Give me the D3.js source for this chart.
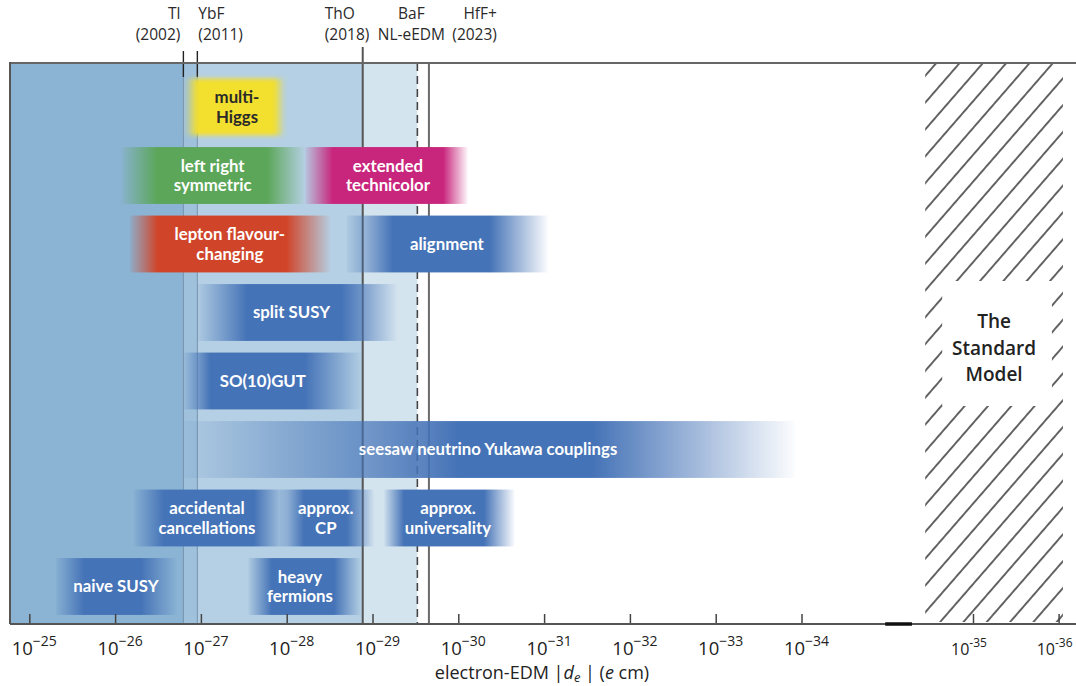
<!DOCTYPE html>
<html>
<head>
<meta charset="utf-8">
<script src="https://cdn.jsdelivr.net/npm/d3@7"></script>
<style>
  body { margin: 0; background: #fff; }
  svg { display: block; }
</style>
</head>
<body>
<svg id="chart" width="1076" height="686"></svg>
<script>
// ---- experimental upper limits on |d_e| (e cm) ----
const experiments   = ["Tl", "YbF", "ThO", "BaF", "HfF+"];
const experimentSub = ["(2002)", "(2011)", "(2018)", "NL-eEDM", "(2023)"];
const experimentLimit = [1.6e-27, 1.1e-27, 1.3e-29, 3.0e-30, 2.2e-30];

// ---- model predictions: fade-in start, fully covered range, fade-out end ----
const models = [
  "multi-\nHiggs", "left right\nsymmetric", "extended\ntechnicolor",
  "lepton flavour-\nchanging", "alignment", "split SUSY", "SO(10)GUT",
  "seesaw neutrino Yukawa couplings", "accidental\ncancellations",
  "approx.\nCP", "approx.\nuniversality", "naive SUSY", "heavy\nfermions"
];
const modelRow    = [0, 1, 1, 2, 2, 3, 4, 5, 6, 6, 6, 7, 7];
const modelFamily = ["yellow", "green", "magenta", "red", "blue", "blue", "blue",
                     "blue", "blue", "blue", "blue", "blue", "blue"];
const fadeStart = [1.5e-27, 8.4e-27, 6.1e-29, 6.7e-27, 2.0e-29, 1.1e-27, 1.6e-27,
                   1.6e-27, 6.0e-27, 1.2e-28, 7.3e-30, 4.9e-26, 2.8e-28];
const fullStart = [1.1e-27, 3.2e-27, 2.9e-29, 3.2e-27, 5.8e-30, 2.9e-28, 7.8e-28,
                   1.0e-30, 2.7e-27, 6.3e-29, 4.3e-30, 2.3e-26, 1.5e-28];
const fullEnd   = [1.4e-28, 1.7e-28, 1.5e-30, 1.0e-28, 4.3e-31, 2.3e-29, 6.1e-29,
                   2.7e-32, 2.4e-28, 2.0e-29, 5.0e-31, 5.0e-27, 2.8e-29];
const fadeEnd   = [1.05e-28, 6.2e-29, 7.7e-31, 3.1e-29, 9.0e-32, 5.2e-30, 1.33e-29,
                   1.2e-34, 9.9e-29, 9.6e-30, 2.2e-31, 1.9e-27, 1.36e-29];
const labelAt   = [3.8e-28, 7.3e-28, 6.6e-30, 4.6e-28, 1.36e-30, 8.8e-29, 1.9e-28,
                   4.5e-31, 8.5e-28, 3.5e-29, 1.32e-30, 9.8e-27, 7.0e-29];

// ---- axis ----
const tickExponents = [-25, -26, -27, -28, -29, -30, -31, -32, -33, -34, -35, -36];
const brokenAfter = -34;                 // axis is broken between 1e-34 and 1e-35
const axisBreak = [3.25e-35, 2.27e-35];
const standardModel = [1.9e-35, 8.9e-37];
const axisTitle = "electron-EDM";

// ---- layout ----
const W = 1076, H = 686;
const plotLeft = 10, plotTop = 63, plotBottom = 624;

const svg = d3.select("#chart");
const defs = svg.append("defs");

// log scale with a gap between 1e-34 and 1e-35
const x = d3.scaleLog()
  .domain([1e-25, 1e-34, 1e-35, 1e-36])
  .range([29.3, 801.5, 973, 1058.6]);

const y = d3.scaleBand()
  .domain(d3.range(8))
  .range([72.75, 620.75])
  .paddingInner(0.17)
  .paddingOuter(0.085);

const familyColor = {
  yellow: "#f3df2d", green: "#5ba658", magenta: "#c8257c",
  red: "#d0452a", blue: "#4573b7"
};

// ---- excluded regions, widest first ----
const regionFill = ["#d4e4ef", "#b5d0e4", "#9fc1dc", "#8bb3d4"];
const regionOrder = [3, 2, 1, 0];
svg.append("g").selectAll("rect")
  .data(regionOrder)
  .join("rect")
  .attr("x", plotLeft)
  .attr("y", plotTop)
  .attr("width", i => x(experimentLimit[i]) - plotLeft)
  .attr("height", plotBottom - plotTop)
  .attr("fill", (i, k) => regionFill[k]);

// ---- limit lines through the plot ----
const lineStyle = [
  { stroke: "#7893ad", width: 1, dash: null, top: plotTop },
  { stroke: "#7893ad", width: 1, dash: null, top: plotTop },
  { stroke: "#555", width: 2, dash: null, top: 47 },
  { stroke: "#444", width: 1.6, dash: "8,5", top: plotTop },
  { stroke: "#6a6a6a", width: 2, dash: null, top: plotTop }
];
svg.append("g").selectAll("line")
  .data(experiments)
  .join("line")
  .attr("x1", (d, i) => x(experimentLimit[i]))
  .attr("x2", (d, i) => x(experimentLimit[i]))
  .attr("y1", (d, i) => lineStyle[i].top)
  .attr("y2", plotBottom)
  .attr("stroke", (d, i) => lineStyle[i].stroke)
  .attr("stroke-width", (d, i) => lineStyle[i].width)
  .attr("stroke-dasharray", (d, i) => lineStyle[i].dash);

// short black markers above the frame for Tl and YbF
svg.append("g").selectAll("line")
  .data([0, 1])
  .join("line")
  .attr("x1", i => x(experimentLimit[i]))
  .attr("x2", i => x(experimentLimit[i]))
  .attr("y1", 51).attr("y2", 77)
  .attr("stroke", "#222").attr("stroke-width", 1.4);

// ---- model bands with soft ends ----
defs.append("filter").attr("id", "soft")
  .attr("x", "-10%").attr("y", "-10%").attr("width", "120%").attr("height", "120%")
  .append("feGaussianBlur").attr("stdDeviation", 2.2);

models.forEach((m, i) => {
  const x0 = x(fadeStart[i]), x1 = x(fullStart[i]), x2 = x(fullEnd[i]), x3 = x(fadeEnd[i]);
  const span = x3 - x0;
  const g = defs.append("linearGradient")
    .attr("id", "band" + i)
    .attr("gradientUnits", "userSpaceOnUse")
    .attr("x1", x0).attr("x2", x3).attr("y1", 0).attr("y2", 0);
  const c = familyColor[modelFamily[i]];
  [[0, 0.06], [(x1 - x0) / span, 1], [(x2 - x0) / span, 1], [1, 0.02]].forEach(([o, a]) => {
    g.append("stop").attr("offset", o).attr("stop-color", c).attr("stop-opacity", a);
  });
});

const bands = svg.append("g").selectAll("g")
  .data(models)
  .join("g");

bands.append("rect")
  .attr("x", (d, i) => x(fadeStart[i]))
  .attr("y", (d, i) => y(modelRow[i]))
  .attr("width", (d, i) => x(fadeEnd[i]) - x(fadeStart[i]))
  .attr("height", y.bandwidth())
  .attr("fill", (d, i) => `url(#band${i})`)
  .attr("filter", (d, i) => modelFamily[i] === "yellow" ? "url(#soft)" : null);

bands.append("text")
  .attr("x", (d, i) => x(labelAt[i]))
  .attr("text-anchor", "middle")
  .attr("font-family", "Lato, 'Open Sans', sans-serif")
  .attr("font-weight", 700)
  .attr("font-size", 16.8)
  .attr("fill", (d, i) => modelFamily[i] === "yellow" ? "#2a2a2a" : "#fff")
  .each(function (d, i) {
    const lines = d.split("\n");
    const cy = y(modelRow[i]) + y.bandwidth() / 2;
    const lh = 19.5;
    lines.forEach((ln, k) => {
      d3.select(this).append("tspan")
        .attr("x", x(labelAt[i]))
        .attr("y", cy + 5.8 + (k - (lines.length - 1) / 2) * lh)
        .text(ln);
    });
  });

// ---- Standard Model region ----
const pat = defs.append("pattern")
  .attr("id", "hatch")
  .attr("patternUnits", "userSpaceOnUse")
  .attr("width", 17.6).attr("height", 17.6)
  .attr("patternTransform", "rotate(41)");
pat.append("line")
  .attr("x1", 8.8).attr("x2", 8.8).attr("y1", 0).attr("y2", 17.6)
  .attr("stroke", "#111").attr("stroke-width", 1.3);

const smX0 = x(standardModel[0]), smX1 = x(standardModel[1]);
svg.append("rect")
  .attr("x", smX0).attr("y", plotTop + 1)
  .attr("width", smX1 - smX0).attr("height", plotBottom - plotTop - 3)
  .attr("fill", "url(#hatch)");
svg.append("rect")
  .attr("x", smX0 + 17).attr("y", 281)
  .attr("width", smX1 - smX0 - 28).attr("height", 125)
  .attr("fill", "#fff");
svg.append("text")
  .attr("text-anchor", "middle")
  .attr("font-family", "'Open Sans', sans-serif")
  .attr("font-weight", 600)
  .attr("font-size", 19)
  .attr("fill", "#222")
  .selectAll("tspan")
  .data(["The", "Standard", "Model"])
  .join("tspan")
  .attr("x", (smX0 + smX1) / 2)
  .attr("y", (d, k) => 328 + k * 26.5)
  .text(d => d);

// ---- frame ----
svg.append("line")
  .attr("x1", plotLeft).attr("x2", W).attr("y1", plotTop).attr("y2", plotTop)
  .attr("stroke", "#666").attr("stroke-width", 2);
svg.append("line")
  .attr("x1", plotLeft).attr("x2", plotLeft).attr("y1", plotTop - 1).attr("y2", plotBottom)
  .attr("stroke", "#555").attr("stroke-width", 2);

// ---- bottom axis ----
const tickValues = tickExponents.map(e => Math.pow(10, e));
const axis = svg.append("g")
  .attr("transform", `translate(0,${plotBottom})`)
  .call(d3.axisBottom(x).tickValues(tickValues).tickSize(-10).tickFormat(() => ""));
axis.select(".domain").remove();
axis.selectAll(".tick line").attr("stroke", "#444").attr("stroke-width", 1.5);

svg.append("line")
  .attr("x1", plotLeft).attr("x2", W).attr("y1", plotBottom).attr("y2", plotBottom)
  .attr("stroke", "#555").attr("stroke-width", 2);
svg.append("line")
  .attr("x1", x(axisBreak[0])).attr("x2", x(axisBreak[1]))
  .attr("y1", plotBottom).attr("y2", plotBottom)
  .attr("stroke", "#111").attr("stroke-width", 3.5);

const tickLabels = svg.append("g")
  .attr("font-family", "'Open Sans', sans-serif")
  .attr("fill", "#222")
  .selectAll("text")
  .data(tickExponents)
  .join("text")
  .attr("text-anchor", "middle")
  .attr("x", e => x(Math.pow(10, e)) + (e < brokenAfter ? -4 : 5))
  .attr("y", 655);
tickLabels.append("tspan")
  .attr("font-size", e => e < brokenAfter ? 16 : 18.5)
  .text("10");
tickLabels.append("tspan")
  .attr("font-size", e => e < brokenAfter ? 12 : 14)
  .attr("dy", e => e < brokenAfter ? -8 : -9)
  .text(e => e < brokenAfter ? "-" + (-e) : "\u2212" + (-e));

// axis title
const title = svg.append("text")
  .attr("x", 542).attr("y", 679)
  .attr("text-anchor", "middle")
  .attr("font-family", "'Open Sans', sans-serif")
  .attr("font-size", 18)
  .attr("fill", "#222");
title.append("tspan").text(axisTitle + " |");
title.append("tspan").attr("font-style", "italic").text("d");
title.append("tspan").attr("font-style", "italic").attr("font-size", 13).attr("dy", 3).text("e");
title.append("tspan").attr("dy", -3).text(" | (");
title.append("tspan").attr("font-style", "italic").text("e");
title.append("tspan").text(" cm)");

// ---- experiment labels above the frame ----
const labelAnchor = ["end", "start", "start", "middle", "end"];
const labelDx = [-3, 1, -38, -6, 68];
const topLabels = svg.append("g")
  .attr("font-family", "'Open Sans', sans-serif")
  .attr("font-size", 15.5)
  .attr("fill", "#2a2a2a")
  .selectAll("text")
  .data(experiments)
  .join("text")
  .attr("text-anchor", (d, i) => labelAnchor[i]);
topLabels.append("tspan")
  .attr("x", (d, i) => x(experimentLimit[i]) + labelDx[i])
  .attr("y", 19)
  .text(d => d);
topLabels.append("tspan")
  .attr("x", (d, i) => x(experimentLimit[i]) + labelDx[i])
  .attr("y", 40)
  .text((d, i) => experimentSub[i]);
</script>
</body>
</html>
